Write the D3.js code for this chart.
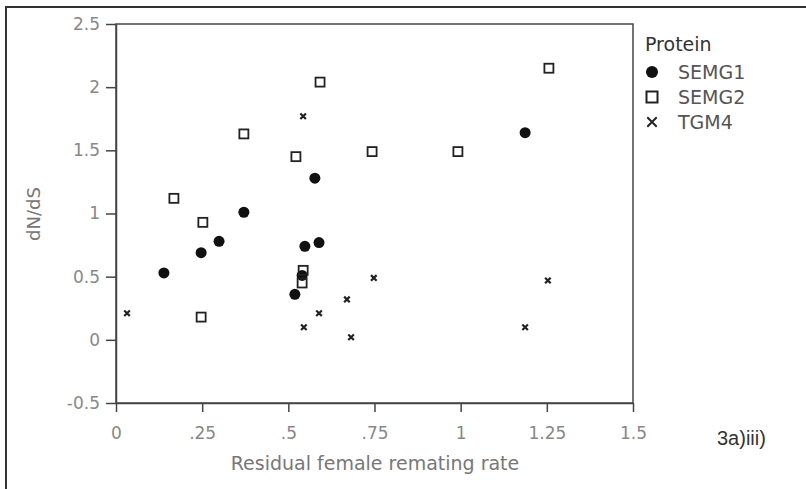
<!DOCTYPE html>
<html>
<head>
<meta charset="utf-8">
<script src="https://cdn.jsdelivr.net/npm/d3@7"></script>
<style>
  body { margin: 0; background: #fff; }
</style>
</head>
<body>
<div class="container"></div>
<script>
const WIDTH = 806;
const HEIGHT = 489;
const PLOT = { left: 116, top: 24, right: 633, bottom: 403 };

// data
var semg1X = [0.139, 0.247, 0.299, 0.371, 0.577, 0.548, 0.589, 0.519, 0.540, 1.187];
var semg1Y = [0.53, 0.69, 0.78, 1.01, 1.28, 0.74, 0.77, 0.36, 0.51, 1.64];

var semg2X = [0.592, 0.371, 0.522, 0.168, 0.252, 0.247, 0.543, 0.540, 0.743, 0.992, 1.256];
var semg2Y = [2.04, 1.63, 1.45, 1.12, 0.93, 0.18, 0.55, 0.45, 1.49, 1.49, 2.15];

var tgm4X = [0.543, 0.032, 0.589, 0.545, 0.670, 0.682, 0.748, 1.253, 1.187];
var tgm4Y = [1.77, 0.21, 0.21, 0.10, 0.32, 0.02, 0.49, 0.47, 0.10];

var proteins = ["SEMG1", "SEMG2", "TGM4"];

var xTicks = [0, 0.25, 0.5, 0.75, 1, 1.25, 1.5];
var xTickLabels = ["0", ".25", ".5", ".75", "1", "1.25", "1.5"];
var yTicks = [-0.5, 0, 0.5, 1, 1.5, 2, 2.5];
var yTickLabels = ["-0.5", "0", "0.5", "1", "1.5", "2", "2.5"];

var FONT = "'DejaVu Sans', sans-serif";

var svg = d3.select(".container")
    .append("svg")
    .attr("width", WIDTH)
    .attr("height", HEIGHT);

var xScale = d3.scaleLinear()
    .domain([0, 1.5])
    .range([PLOT.left, PLOT.right]);

var yScale = d3.scaleLinear()
    .domain([-0.5, 2.5])
    .range([PLOT.bottom, PLOT.top]);

// outer frame (top and left edges of the scanned figure)
svg.append("path")
    .attr("d", "M6,489V7H806")
    .attr("fill", "none")
    .attr("stroke", "#333")
    .attr("stroke-width", 2);

// plot box
svg.append("rect")
    .attr("x", PLOT.left)
    .attr("y", PLOT.top)
    .attr("width", PLOT.right - PLOT.left)
    .attr("height", PLOT.bottom - PLOT.top)
    .attr("fill", "none")
    .attr("stroke", "#444")
    .attr("stroke-width", 1.5);

var xAxis = d3.axisBottom(xScale)
    .tickValues(xTicks)
    .tickFormat(function (d, i) { return xTickLabels[i]; })
    .tickSize(9)
    .tickSizeOuter(0)
    .tickPadding(15);

var yAxis = d3.axisLeft(yScale)
    .tickValues(yTicks)
    .tickFormat(function (d, i) { return yTickLabels[i]; })
    .tickSize(10)
    .tickSizeOuter(0)
    .tickPadding(6);

var gx = svg.append("g")
    .attr("transform", "translate(0," + PLOT.bottom + ")")
    .call(xAxis);

var gy = svg.append("g")
    .attr("transform", "translate(" + PLOT.left + ",0)")
    .call(yAxis);

[gx, gy].forEach(function (g) {
    g.select(".domain").attr("stroke", "#444").attr("stroke-width", 1.5);
    g.selectAll(".tick line").attr("stroke", "#444").attr("stroke-width", 1.5);
    g.selectAll(".tick text")
        .attr("fill", "#888")
        .style("font-family", FONT)
        .style("font-size", "17px");
});

// axis titles
svg.append("text")
    .attr("x", 375)
    .attr("y", 470)
    .attr("text-anchor", "middle")
    .attr("fill", "#777")
    .style("font-family", FONT)
    .style("font-size", "19px")
    .text("Residual female remating rate");

svg.append("text")
    .attr("transform", "translate(40,214) rotate(-90)")
    .attr("text-anchor", "middle")
    .attr("fill", "#777")
    .style("font-family", FONT)
    .style("font-size", "18px")
    .text("dN/dS");

// points
var plot = svg.append("g");

plot.selectAll("circle.semg1")
    .data(d3.zip(semg1X, semg1Y))
    .enter().append("circle")
    .attr("class", "semg1")
    .attr("cx", function (d) { return xScale(d[0]); })
    .attr("cy", function (d) { return yScale(d[1]); })
    .attr("r", 5.5)
    .attr("fill", "#111");

plot.selectAll("rect.semg2")
    .data(d3.zip(semg2X, semg2Y))
    .enter().append("rect")
    .attr("class", "semg2")
    .attr("x", function (d) { return xScale(d[0]) - 4.5; })
    .attr("y", function (d) { return yScale(d[1]) - 4.5; })
    .attr("width", 9)
    .attr("height", 9)
    .attr("fill", "none")
    .attr("stroke", "#222")
    .attr("stroke-width", 1.8);

// symbolX is a stroke symbol in d3 v7
var cross = d3.symbol().type(d3.symbolX).size(22);

plot.selectAll("path.tgm4")
    .data(d3.zip(tgm4X, tgm4Y))
    .enter().append("path")
    .attr("class", "tgm4")
    .attr("transform", function (d) {
        return "translate(" + xScale(d[0]) + "," + yScale(d[1]) + ")";
    })
    .attr("d", cross)
    .attr("fill", "none")
    .attr("stroke", "#222")
    .attr("stroke-width", 2.2);

// legend
var legend = svg.append("g")
    .attr("transform", "translate(645,0)");

legend.append("text")
    .attr("x", 0)
    .attr("y", 51)
    .attr("fill", "#333")
    .style("font-family", FONT)
    .style("font-size", "19px")
    .text("Protein");

var item = legend.selectAll("g.item")
    .data(proteins)
    .enter().append("g")
    .attr("class", "item")
    .attr("transform", function (d, i) { return "translate(0," + (72 + i * 25) + ")"; });

item.append("text")
    .attr("x", 33)
    .attr("y", 7)
    .attr("fill", "#555")
    .style("font-family", FONT)
    .style("font-size", "19px")
    .text(function (d) { return d; });

item.filter(function (d) { return d === "SEMG1"; })
    .append("circle")
    .attr("cx", 7).attr("cy", 0).attr("r", 6)
    .attr("fill", "#111");

item.filter(function (d) { return d === "SEMG2"; })
    .append("rect")
    .attr("x", 1.5).attr("y", -5.5).attr("width", 11).attr("height", 11)
    .attr("fill", "none").attr("stroke", "#222").attr("stroke-width", 2);

item.filter(function (d) { return d === "TGM4"; })
    .append("path")
    .attr("transform", "translate(7,0)")
    .attr("d", d3.symbol().type(d3.symbolX).size(60))
    .attr("fill", "none")
    .attr("stroke", "#222")
    .attr("stroke-width", 2);

// panel tag
svg.append("text")
    .attr("x", 717)
    .attr("y", 445)
    .attr("fill", "#333")
    .style("font-family", "'Liberation Sans', Arial, sans-serif")
    .style("font-size", "20px")
    .text("3a)iii)");
</script>
</body>
</html>
